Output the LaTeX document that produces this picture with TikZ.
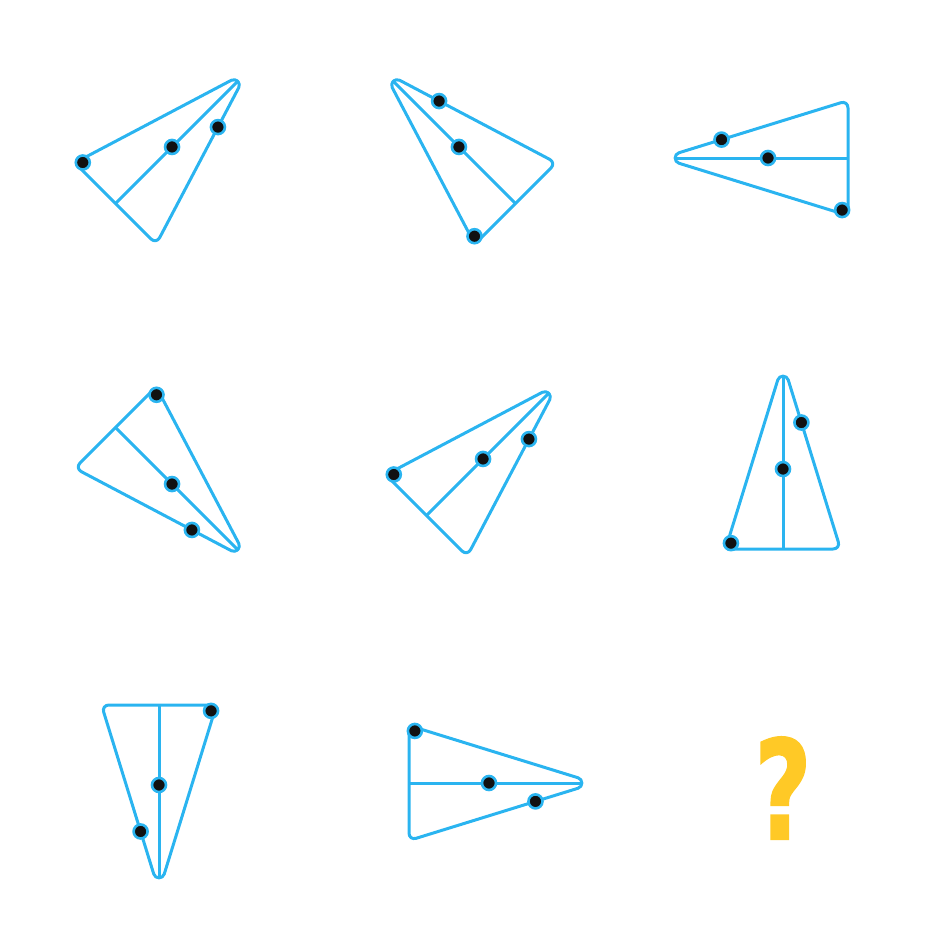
\documentclass[tikz,border=0pt]{standalone}
\usepackage{fontspec}
\setmainfont{Fira Sans}
\newfontfamily\qfont{DejaVu Sans}[BoldFeatures={FakeBold=1.2}]
\usetikzlibrary{calc}

\definecolor{skyblue}{HTML}{2AB4F0}
\definecolor{inkdot}{HTML}{111111}
\definecolor{qyellow}{HTML}{FFC926}

\begin{document}
\begin{tikzpicture}[x=1pt, y=-1pt,
    wedge/.style={draw=skyblue, line width=3pt, line join=round},
    spine/.style={draw=skyblue, line width=3pt, shorten <=12pt},
    dot/.style={circle, draw=skyblue, line width=2.6pt, fill=inkdot, inner sep=0pt, minimum size=14pt},
    qmark/.style={text=qyellow, font=\fontsize{138}{138}\qfont\bfseries}
  ]
  \useasboundingbox (0,0) rectangle (940,940);

  % apex / corner with the dot / other corner
  \foreach \n/\ax/\ay/\bx/\by/\cx/\cy in {
      1/247/72/74.8/162.8/156.2/244.2,
      2/384/72/474.8/244.2/556.2/162.8,
      3/662/158/848/215.5/848/100.5,
      4/247/559/156.2/386.8/74.8/468.2,
      5/558/384/385.8/474.8/467.2/556.2,
      6/783/363/725.5/549/840.5/549,
      7/159/891/216.5/705/101.5/705,
      8/595/783/409/725.5/409/840.5} {
    \coordinate (a\n) at (\ax,\ay);
    \coordinate (b\n) at (\bx,\by);
    \coordinate (c\n) at (\cx,\cy);
    \coordinate (m\n) at ($(b\n)!0.5!(c\n)$);
    \coordinate (g\n) at ($(a\n)!2/3!(m\n)$);
    % round tip of the apex
    \coordinate (tb\n) at ($(a\n)!17.8pt!(b\n)$);
    \coordinate (tc\n) at ($(a\n)!17.8pt!(c\n)$);
    \coordinate (pb\n) at ($(tb\n)!5.4pt!(a\n)$);
    \coordinate (pc\n) at ($(tc\n)!5.4pt!(a\n)$);
    \draw[wedge] (m\n) [rounded corners=7.5pt] -- (b\n) [sharp corners] -- (tb\n)
      .. controls (pb\n) and (pc\n) .. (tc\n) [rounded corners=7.5pt] -- (c\n) [sharp corners] -- cycle;
    \draw[spine] (a\n) -- (m\n);
    \node[dot] (k\n) at ($(b\n)!8pt!(g\n)$) {};
    \node[dot] (s\n) at ($(a\n)!0.57!(m\n)$) {};
    \node[dot] (e\n) at ($(a\n)!0.32!(c\n)$) {};
  }

  \node[qmark] (q) at (783,788) {\scalebox{0.72}[1]{?}};
\end{tikzpicture}
\end{document}
